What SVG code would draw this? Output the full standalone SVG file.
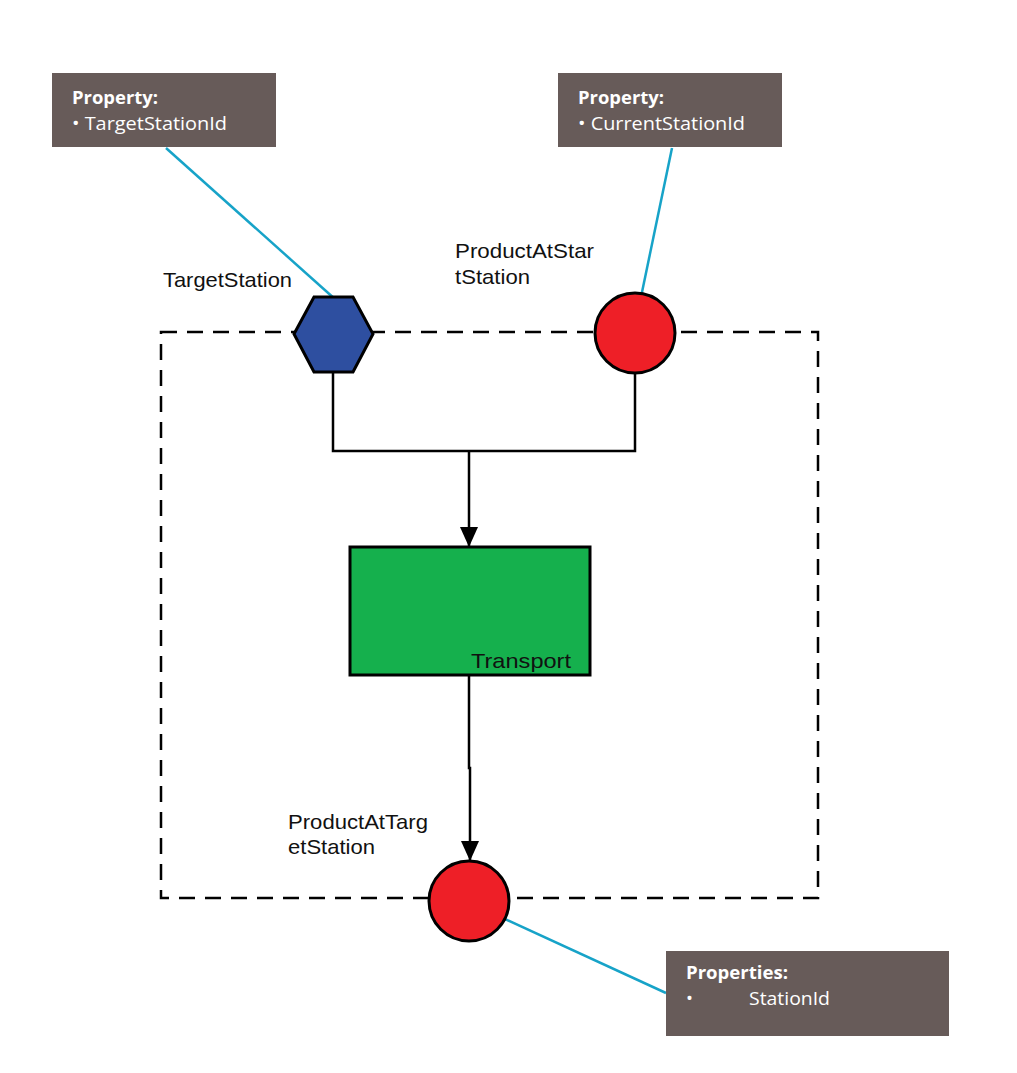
<svg xmlns="http://www.w3.org/2000/svg" width="1017" height="1073" viewBox="0 0 1017 1073">
<style>
.lbl{font-family:"Liberation Sans",Arial,sans-serif;font-size:21px;fill:#111}
.ct{font-family:"Open Sans","Noto Sans",sans-serif;font-size:18.5px;fill:#fff}
.cb{font-weight:bold}
.box{fill:#675b59}
.lead{stroke:#17a3c8;stroke-width:2.5;fill:none}
.conn{stroke:#000;stroke-width:2.5;fill:none}
.node{stroke:#000;stroke-width:3}
</style>
<defs>
<marker id="arrow" viewBox="0 0 20 20" refX="20" refY="10" markerWidth="20" markerHeight="20" markerUnits="userSpaceOnUse" orient="auto">
<path d="M0,1 L20,10 L0,19 z" fill="#000"/>
</marker>
</defs>
<rect width="1017" height="1073" fill="#fff"/>
<g id="boundary">
<rect x="161" y="332" width="657" height="566" fill="none" stroke="#000" stroke-width="2.5" stroke-dasharray="16 10"/>
</g>
<g id="connectors">
<polyline class="conn" points="333,372 333,451 635,451 635,373"/>
<line class="conn" x1="469" y1="451" x2="469" y2="547" marker-end="url(#arrow)"/>
<polyline class="conn" points="469,675 469,768 470,768 470,861" marker-end="url(#arrow)"/>
<line class="lead" x1="166" y1="148" x2="336" y2="300"/>
<line class="lead" x1="672" y1="148" x2="641" y2="297"/>
<line class="lead" x1="492" y1="913" x2="666" y2="993"/>
</g>
<g id="TargetStation">
<polygon class="node" fill="#2e4fa0" points="294,334 314,297 353,297 373,334 353,372 314,372"/>
<text class="lbl" x="163" y="287" textLength="129" lengthAdjust="spacingAndGlyphs">TargetStation</text>
</g>
<g id="ProductAtStartStation">
<circle class="node" cx="635" cy="333" r="40" fill="#ee1f27"/>
<text class="lbl" x="455" y="258" textLength="139" lengthAdjust="spacingAndGlyphs">ProductAtStar</text>
<text class="lbl" x="455" y="284" textLength="75" lengthAdjust="spacingAndGlyphs">tStation</text>
</g>
<g id="Transport">
<rect class="node" x="350" y="547" width="240" height="128" fill="#15b04d"/>
<text class="lbl" x="471" y="668" textLength="100" lengthAdjust="spacingAndGlyphs">Transport</text>
</g>
<g id="ProductAtTargetStation">
<circle class="node" cx="469" cy="901" r="40" fill="#ee1f27"/>
<text class="lbl" x="288" y="829" textLength="140" lengthAdjust="spacingAndGlyphs">ProductAtTarg</text>
<text class="lbl" x="288" y="854" textLength="87" lengthAdjust="spacingAndGlyphs">etStation</text>
</g>
<g id="callout1">
<rect class="box" x="52" y="73" width="224" height="74"/>
<text class="ct cb" x="72" y="104" textLength="86" lengthAdjust="spacingAndGlyphs">Property:</text>
<text class="ct" x="72" y="130" textLength="155" lengthAdjust="spacingAndGlyphs">• TargetStationId</text>
</g>
<g id="callout2">
<rect class="box" x="558" y="73" width="224" height="74"/>
<text class="ct cb" x="578" y="104" textLength="86" lengthAdjust="spacingAndGlyphs">Property:</text>
<text class="ct" x="578" y="130" textLength="167" lengthAdjust="spacingAndGlyphs">• CurrentStationId</text>
</g>
<g id="callout3">
<rect class="box" x="666" y="951" width="283" height="85"/>
<text class="ct cb" x="686" y="979" textLength="102" lengthAdjust="spacingAndGlyphs">Properties:</text>
<text class="ct" x="686" y="1005">•</text>
<text class="ct" x="749" y="1005" textLength="81" lengthAdjust="spacingAndGlyphs">StationId</text>
</g>
</svg>
